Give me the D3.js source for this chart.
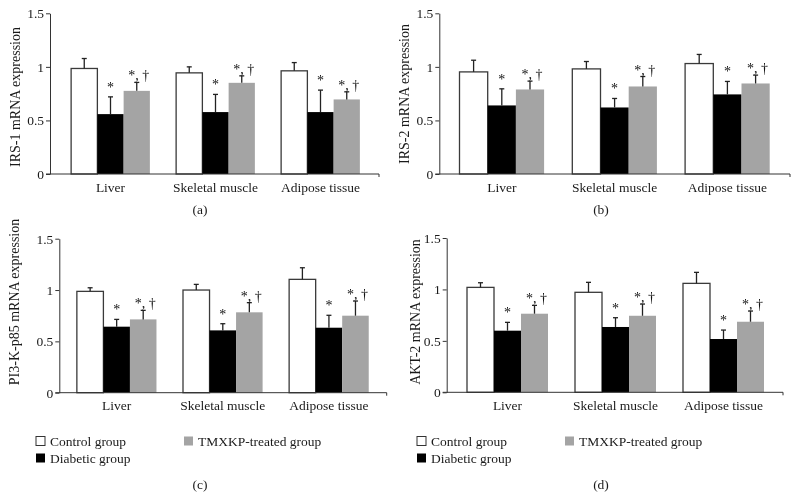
<!DOCTYPE html>
<html>
<head>
<meta charset="utf-8">
<script src="https://cdn.jsdelivr.net/npm/d3@7"></script>
<style>
  body { margin: 0; background: #fff; }
  svg { will-change: transform; -webkit-font-smoothing: antialiased; }
  text { font-family: "Liberation Serif", "DejaVu Serif", serif; fill: #1a1a1a; }
</style>
</head>
<body>
<script>
var width = 800, height = 498;

var categories = ["Liver", "Skeletal muscle", "Adipose tissue"];
var groups = ["Control group", "Diabetic group", "TMXKP-treated group"];
var yTicks = [0, 0.5, 1, 1.5];

// (a) IRS-1
var irs1Control = [0.985, 0.944, 0.963], irs1ControlSd = [0.093, 0.056, 0.077];
var irs1Diabetic = [0.559, 0.578, 0.578], irs1DiabeticSd = [0.161, 0.165, 0.205];
var irs1Tmxkp = [0.776, 0.851, 0.696], irs1TmxkpSd = [0.079, 0.065, 0.071];
// (b) IRS-2
var irs2Control = [0.953, 0.981, 1.031], irs2ControlSd = [0.109, 0.069, 0.085];
var irs2Diabetic = [0.64, 0.621, 0.743], irs2DiabeticSd = [0.155, 0.084, 0.121];
var irs2Tmxkp = [0.789, 0.817, 0.845], irs2TmxkpSd = [0.078, 0.093, 0.078];
// (c) PI3-K-p85
var pi3kControl = [0.987, 1.0, 1.104], pi3kControlSd = [0.035, 0.055, 0.113];
var pi3kDiabetic = [0.643, 0.607, 0.633], pi3kDiabeticSd = [0.071, 0.065, 0.121];
var pi3kTmxkp = [0.714, 0.783, 0.75], pi3kTmxkpSd = [0.088, 0.094, 0.143];
// (d) AKT-2
var akt2Control = [1.02, 0.972, 1.059], akt2ControlSd = [0.045, 0.097, 0.107];
var akt2Diabetic = [0.599, 0.635, 0.518], akt2DiabeticSd = [0.081, 0.09, 0.087];
var akt2Tmxkp = [0.764, 0.744, 0.686], akt2TmxkpSd = [0.081, 0.114, 0.104];

var marks = ["", "*", "*, \u2020"];
var fills = ["#fff", "#000", "#a4a4a4"];

var svg = d3.select("body").append("svg")
    .attr("width", width).attr("height", height)
    .style("background", "#fff");

var panels = [
  {label: "(a)", ytitle: "IRS-1 mRNA expression", means: [irs1Control, irs1Diabetic, irs1Tmxkp], sds: [irs1ControlSd, irs1DiabeticSd, irs1TmxkpSd],
   ax: 50, axEnd: 379, r0: 58, r1: 373, y0: 174, yTop: 13.3, titleX: 15, titleY: 97, labX: 200, labY: 214},
  {label: "(b)", ytitle: "IRS-2 mRNA expression", means: [irs2Control, irs2Diabetic, irs2Tmxkp], sds: [irs2ControlSd, irs2DiabeticSd, irs2TmxkpSd],
   ax: 439.3, axEnd: 790, r0: 445.4, r1: 783.8, y0: 174, yTop: 13.3, titleX: 404, titleY: 94, labX: 601, labY: 214},
  {label: "(c)", ytitle: "PI3-K-p85 mRNA expression", means: [pi3kControl, pi3kDiabetic, pi3kTmxkp], sds: [pi3kControlSd, pi3kDiabeticSd, pi3kTmxkpSd],
   ax: 59.3, axEnd: 386.7, r0: 63.6, r1: 382, y0: 392.7, yTop: 238.7, titleX: 14, titleY: 302, labX: 200, labY: 489},
  {label: "(d)", ytitle: "AKT-2 mRNA expression", means: [akt2Control, akt2Diabetic, akt2Tmxkp], sds: [akt2ControlSd, akt2DiabeticSd, akt2TmxkpSd],
   ax: 446.7, axEnd: 783, r0: 453.5, r1: 777.5, y0: 392.3, yTop: 238, titleX: 415, titleY: 312, labX: 601, labY: 489}
];

panels.forEach(function(p) {
  var g = svg.append("g");
  var x = d3.scaleBand().domain(categories).range([p.r0, p.r1]).paddingInner(0.25).paddingOuter(0.125);
  var xs = d3.scaleBand().domain(d3.range(3)).range([0, x.bandwidth()]);
  var y = d3.scaleLinear().domain([0, 1.5]).range([p.y0, p.yTop]);

  var rows = [];
  categories.forEach(function(c, i) {
    for (var s = 0; s < 3; s++) rows.push({cat: c, s: s, v: p.means[s][i], e: p.sds[s][i]});
  });

  g.selectAll("rect.bar").data(rows).enter().append("rect")
    .attr("class", "bar")
    .attr("x", function(d) { return x(d.cat) + xs(d.s); })
    .attr("width", xs.bandwidth())
    .attr("y", function(d) { return y(d.v); })
    .attr("height", function(d) { return p.y0 - y(d.v); })
    .attr("fill", function(d) { return fills[d.s]; })
    .attr("stroke", function(d) { return d.s == 0 ? "#3a3a3a" : "none"; })
    .attr("stroke-width", 1.3);

  var cx = function(d) { return x(d.cat) + xs(d.s) + xs.bandwidth() / 2; };
  var err = g.selectAll("g.err").data(rows).enter().append("g").attr("class", "err");
  err.append("line")
    .attr("x1", cx).attr("x2", cx)
    .attr("y1", function(d) { return y(d.v); })
    .attr("y2", function(d) { return y(d.v + d.e); })
    .attr("stroke", "#222").attr("stroke-width", 1.3);
  err.append("line")
    .attr("x1", function(d) { return cx(d) - 2.5; }).attr("x2", function(d) { return cx(d) + 2.5; })
    .attr("y1", function(d) { return y(d.v + d.e); })
    .attr("y2", function(d) { return y(d.v + d.e); })
    .attr("stroke", "#222").attr("stroke-width", 1.3);

  g.selectAll("text.mark").data(rows.filter(function(d) { return d.s > 0; })).enter().append("text")
    .attr("class", "mark")
    .attr("x", function(d) { return cx(d) + (d.s == 2 ? 2 : 0); })
    .attr("y", function(d) { return y(d.v + d.e) - (d.s == 1 ? 5 : 2); })
    .attr("text-anchor", "middle")
    .style("font-size", "14px")
    .style("fill", "#111")
    .text(function(d) { return marks[d.s]; });

  // y axis
  var yAxis = g.append("g").attr("transform", "translate(" + p.ax + ",0)")
    .call(d3.axisLeft(y).tickValues(yTicks).tickSize(4).tickSizeOuter(0).tickFormat(function(d) { return d; }));
  yAxis.select(".domain").attr("stroke", "#333");
  yAxis.selectAll(".tick line").attr("stroke", "#333");
  yAxis.selectAll(".tick text").style("font-size", "13.5px").style("font-family", "Liberation Serif").attr("fill", "#1a1a1a").attr("x", -6);

  // x axis
  g.append("line").attr("x1", p.ax - 4).attr("x2", p.axEnd).attr("y1", p.y0).attr("y2", p.y0)
    .attr("stroke", "#333").attr("stroke-width", 1);
  g.append("line").attr("x1", p.axEnd).attr("x2", p.axEnd).attr("y1", p.y0).attr("y2", p.y0 + 3)
    .attr("stroke", "#333");
  var xAxis = g.append("g").attr("transform", "translate(0," + p.y0 + ")")
    .call(d3.axisBottom(x).tickSize(0).tickPadding(8));
  xAxis.select(".domain").remove();
  xAxis.selectAll(".tick text").style("font-size", "13.5px").style("font-family", "Liberation Serif").attr("fill", "#1a1a1a");

  g.append("text")
    .attr("transform", "translate(" + p.titleX + "," + p.titleY + ") rotate(-90)")
    .attr("text-anchor", "middle").attr("dy", "0.35em")
    .style("font-size", "14px")
    .text(p.ytitle);

  g.append("text").attr("x", p.labX).attr("y", p.labY).attr("text-anchor", "middle")
    .style("font-size", "13.5px").text(p.label);
});

// legends under (c) and (d)
[{x: 36}, {x: 417}].forEach(function(l) {
  var pos = [[0, 441], [0, 458], [148, 441]];
  var lg = svg.append("g").attr("transform", "translate(" + l.x + ",0)")
    .selectAll("g").data(groups).enter().append("g")
    .attr("transform", function(d, i) { return "translate(" + pos[i][0] + "," + pos[i][1] + ")"; });
  lg.append("rect").attr("x", 0).attr("y", -4.5).attr("width", 9).attr("height", 9)
    .attr("fill", function(d, i) { return fills[i]; })
    .attr("stroke", function(d, i) { return i == 0 ? "#333" : "none"; });
  lg.append("text").attr("x", 14).attr("dy", "0.35em").style("font-size", "13.5px")
    .text(function(d) { return d; });
});
</script>
</body>
</html>
